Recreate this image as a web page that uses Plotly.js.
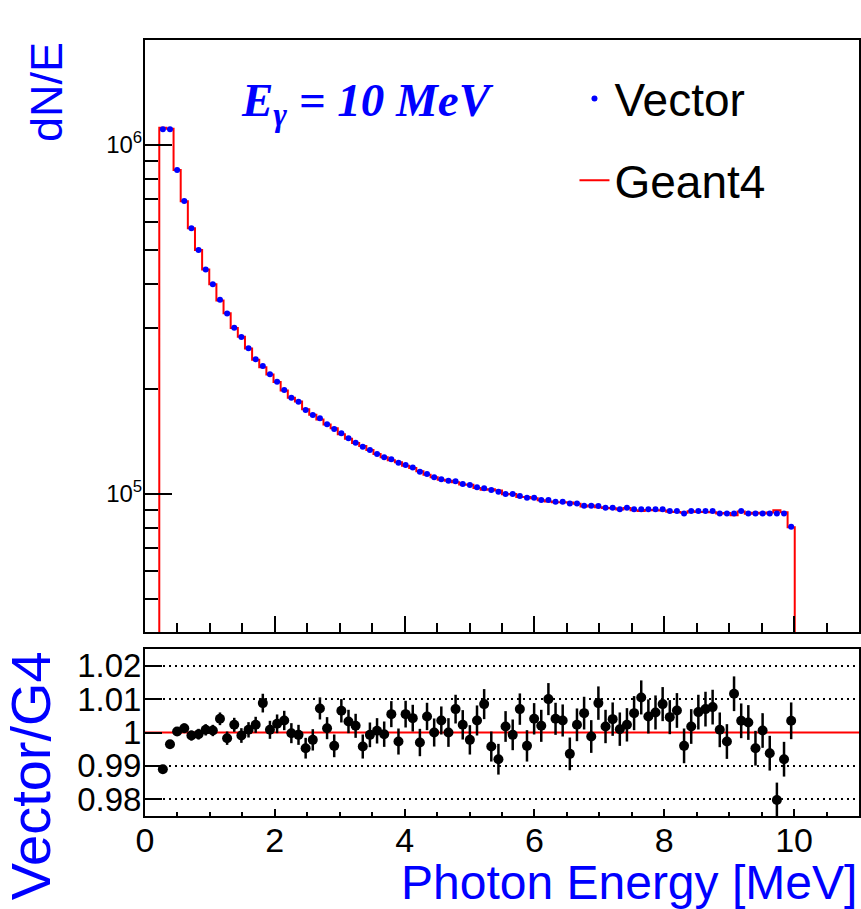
<!DOCTYPE html>
<html>
<head>
<meta charset="utf-8">
<script src="https://cdn.plot.ly/plotly-3.0.1.min.js"></script>
<style>
html,body{margin:0;padding:0;background:#ffffff;}
#chart{width:861px;height:909px;}
</style>
</head>
<body>
<div id="chart"></div>
<script>
// Histogram binning (100 bins over 0-11 MeV; first filled bin index 2)
const histBins = 100;
const histMin = 0;
const histMax = 11;
const firstFilledBin = 2;

// dN/E of the Vector sample, bins 2..90
const vectorDNdE = [
  1.109e6, 1.109e6, 8.48e5, 6.91e5, 5.77e5, 5.00e5, 4.40e5, 3.99e5, 3.60e5, 3.29e5,
  2.996e5, 2.82e5, 2.616e5, 2.432e5, 2.327e5, 2.203e5, 2.098e5, 1.987e5, 1.888e5, 1.839e5,
  1.741e5, 1.684e5, 1.648e5, 1.584e5, 1.536e5, 1.493e5, 1.444e5, 1.403e5, 1.366e5, 1.337e5,
  1.302e5, 1.274e5, 1.257e5, 1.229e5, 1.211e5, 1.192e5, 1.158e5, 1.141e5, 1.117e5, 1.102e5,
  1.092e5, 1.088e5, 1.068e5, 1.061e5, 1.045e5, 1.038e5, 1.027e5, 1.015e5, 1.000e5, 1.000e5,
  9.87e4, 9.76e4, 9.76e4, 9.61e4, 9.61e4, 9.51e4, 9.51e4, 9.40e4, 9.40e4, 9.26e4,
  9.26e4, 9.24e4, 9.14e4, 9.14e4, 9.04e4, 9.14e4, 9.04e4, 9.04e4, 9.04e4, 9.04e4,
  9.04e4, 8.94e4, 8.94e4, 8.80e4, 8.94e4, 8.94e4, 8.94e4, 8.94e4, 8.80e4, 8.80e4,
  8.80e4, 8.94e4, 8.80e4, 8.80e4, 8.80e4, 8.80e4, 8.80e4, 8.80e4, 8.06e4
];

// Vector / Geant4 ratio, bins 2..90 (read from the lower pad)
const ratioVectorG4 = [
  0.9890, 0.9965, 1.0003, 1.0013, 0.9991, 0.9995, 1.0008, 1.0006, 1.0041, 0.9983,
  1.0023, 0.9991, 1.0008, 1.0023, 1.0088, 1.0008, 1.0026, 1.0036, 0.9998, 0.9993,
  0.9953, 0.9978, 1.0072, 1.0013, 0.9960, 1.0065, 1.0033, 1.0020, 0.9958, 0.9993,
  1.0005, 0.9995, 1.0055, 0.9973, 1.0055, 1.0043, 0.9970, 1.0048, 1.0000, 1.0036,
  1.0000, 1.0070, 1.0023, 0.9978, 1.0036, 1.0085, 0.9958, 0.9920, 1.0018, 0.9993,
  1.0070, 0.9960, 1.0041, 1.0020, 1.0100, 1.0041, 1.0036, 0.9936, 1.0023, 1.0058,
  0.9988, 1.0088, 1.0018, 1.0040, 1.0010, 1.0023, 1.0058, 1.0105, 1.0048, 1.0060,
  1.0085, 1.0046, 1.0066, 0.9960, 1.0018, 1.0061, 1.0070, 1.0076, 1.0008, 0.9973,
  1.0116, 1.0035, 1.0030, 0.9953, 1.0006, 0.9938, 0.9798, 0.9920, 1.0035
];

// Ratio error bars (half length)
const ratioError = [
  0.0010, 0.0011, 0.0013, 0.0014, 0.0015, 0.0016, 0.0017, 0.0017, 0.0019, 0.0020,
  0.0021, 0.0022, 0.0023, 0.0024, 0.0028, 0.0027, 0.0028, 0.0029, 0.0030, 0.0030,
  0.0031, 0.0032, 0.0033, 0.0033, 0.0034, 0.0035, 0.0035, 0.0036, 0.0036, 0.0037,
  0.0038, 0.0038, 0.0039, 0.0039, 0.0040, 0.0040, 0.0041, 0.0041, 0.0042, 0.0042,
  0.0043, 0.0043, 0.0044, 0.0044, 0.0045, 0.0045, 0.0045, 0.0046, 0.0046, 0.0046,
  0.0047, 0.0047, 0.0047, 0.0048, 0.0048, 0.0048, 0.0048, 0.0049, 0.0049, 0.0049,
  0.0049, 0.0050, 0.0050, 0.0050, 0.0050, 0.0050, 0.0051, 0.0051, 0.0051, 0.0051,
  0.0051, 0.0051, 0.0052, 0.0052, 0.0052, 0.0052, 0.0052, 0.0052, 0.0052, 0.0052,
  0.0052, 0.0052, 0.0052, 0.0052, 0.0052, 0.0052, 0.0052, 0.0052, 0.0055
];

const yTickValsTop = [1e5, 1e6];
const yTickTextTop = ['10<sup>5</sup>', '10<sup>6</sup>'];
const yMinorTop = [5e4, 6e4, 7e4, 8e4, 9e4, 2e5, 3e5, 4e5, 5e5, 6e5, 7e5, 8e5, 9e5, 2e6];
const xTickVals = [0, 2, 4, 6, 8, 10];
const xTickText = ['0', '2', '4', '6', '8', '10'];
const yTickValsRatio = [0.98, 0.99, 1.00, 1.01, 1.02];
const yTickTextRatio = ['0.98', '0.99', '1', '1.01', '1.02'];
const yGridRatio = [0.98, 0.99, 1.01, 1.02];
const ratioReference = 1.0;

// Derived geometry
const binWidth = (histMax - histMin) / histBins;
const binCenters = vectorDNdE.map((_, k) => histMin + (firstFilledBin + k + 0.5) * binWidth);
const geant4DNdE = vectorDNdE.map((v, k) => v / ratioVectorG4[k]);
const histFloor = 1e3; // histogram baseline, below the visible range
const stepX = [histMin + firstFilledBin * binWidth];
const stepY = [histFloor];
geant4DNdE.forEach((v, k) => {
  stepX.push(histMin + (firstFilledBin + k) * binWidth);
  stepY.push(v);
});
stepX.push(histMin + (firstFilledBin + geant4DNdE.length) * binWidth);
stepY.push(histFloor);

const BLUE = '#0000ff';
const RED = '#ff0000';

const traces = [
  {
    type: 'scatter', mode: 'lines', name: 'Geant4',
    x: stepX, y: stepY, xaxis: 'x', yaxis: 'y',
    line: {color: RED, width: 2, shape: 'hv'},
    legendgroup: 'g4', legendrank: 2, hoverinfo: 'skip'
  },
  {
    type: 'scatter', mode: 'markers', name: 'Vector',
    x: binCenters, y: vectorDNdE, xaxis: 'x', yaxis: 'y',
    marker: {color: BLUE, size: 6},
    legendgroup: 'vec', legendrank: 1
  },
  {
    type: 'scatter', mode: 'markers', name: 'Vector/G4',
    x: binCenters, y: ratioVectorG4, xaxis: 'x2', yaxis: 'y2',
    marker: {color: '#000000', size: 10},
    error_y: {type: 'data', array: ratioError, visible: true, color: '#000000', thickness: 2.5, width: 0},
    showlegend: false
  }
];

const axisCommon = {
  showline: true, mirror: true, linecolor: '#000000', linewidth: 2,
  zeroline: false, ticks: 'inside', tickcolor: '#000000', tickwidth: 2
};

const layout = {
  width: 861, height: 909,
  margin: {l: 145, r: 2, t: 40, b: 93},
  paper_bgcolor: '#ffffff', plot_bgcolor: '#ffffff',
  font: {family: 'Liberation Sans, Arial, sans-serif', color: '#000000'},
  showlegend: true,
  legend: {
    x: 0.6015, y: 0.9716, xanchor: 'left', yanchor: 'top',
    font: {size: 46, color: '#000000'},
    bgcolor: 'rgba(0,0,0,0)', borderwidth: 0,
    traceorder: 'grouped', tracegroupgap: 19, itemwidth: 30
  },
  xaxis: Object.assign({}, axisCommon, {
    domain: [0, 1], anchor: 'y', range: [histMin, histMax],
    tickmode: 'array', tickvals: xTickVals, ticktext: xTickText,
    showticklabels: false, ticklen: 16, showgrid: false,
    minor: {dtick: 0.5, tick0: 0, ticks: 'inside', ticklen: 9, tickwidth: 2, tickcolor: '#000000', showgrid: false}
  }),
  yaxis: Object.assign({}, axisCommon, {
    domain: [0.2371, 1], anchor: 'x', type: 'log', range: [4.6046, 6.3009],
    tickmode: 'array', tickvals: yTickValsTop, ticktext: yTickTextTop,
    ticklen: 27, showgrid: false, tickfont: {size: 24, color: '#000000'},
    ticklabelstandoff: -4,
    minor: {tickmode: 'array', tickvals: yMinorTop, ticks: 'inside', ticklen: 13, tickwidth: 2, tickcolor: '#000000', showgrid: false}
  }),
  xaxis2: Object.assign({}, axisCommon, {
    domain: [0, 1], anchor: 'y2', range: [histMin, histMax],
    tickmode: 'array', tickvals: xTickVals, ticktext: xTickText,
    ticklen: 7, showgrid: false, tickfont: {size: 34, color: '#000000'},
    ticklabelstandoff: -7,
    minor: {dtick: 0.5, tick0: 0, ticks: 'inside', ticklen: 4, tickwidth: 2, tickcolor: '#000000', showgrid: false}
  }),
  yaxis2: Object.assign({}, axisCommon, {
    domain: [0, 0.2152], anchor: 'x2', range: [0.975, 1.025],
    tickmode: 'array', tickvals: yTickValsRatio, ticktext: yTickTextRatio,
    ticklen: 17, tickfont: {size: 33, color: '#000000'},
    ticklabelstandoff: -5,
    showgrid: false,
    minor: {tickmode: 'array', tickvals: yGridRatio, ticks: '', showgrid: true,
            gridcolor: '#000000', gridwidth: 2, griddash: '2px,4px'}
  }),
  shapes: [
    {type: 'line', xref: 'x2 domain', x0: 0, x1: 1, yref: 'y2', y0: ratioReference, y1: ratioReference,
     line: {color: RED, width: 2}, layer: 'below'}
  ],
  annotations: [
    {text: 'dN/E', textangle: -90, xref: 'paper', yref: 'paper',
     x: -0.1387, y: 1.0, xanchor: 'center', yanchor: 'top', showarrow: false,
     font: {size: 45, color: BLUE}},
    {text: 'Vector/G4', textangle: -90, xref: 'paper', yref: 'paper',
     x: -0.16, y: 0.2152, xanchor: 'center', yanchor: 'top', showarrow: false,
     font: {size: 56, color: BLUE}},
    {text: 'Photon Energy [MeV]', xref: 'paper', yref: 'paper',
     x: 1, y: -0.0855, xanchor: 'right', yanchor: 'middle', showarrow: false,
     font: {size: 48, color: BLUE}},
    {text: '<b><i>E<sub>γ</sub> = 10 MeV</i></b>', xref: 'paper', yref: 'paper',
     x: 0.132, y: 0.9188, xanchor: 'left', yanchor: 'middle', showarrow: false,
     font: {size: 47, color: BLUE, family: 'Liberation Serif, Times New Roman, serif'}}
  ]
};

Plotly.newPlot('chart', traces, layout, {displayModeBar: false, staticPlot: true});
</script>
</body>
</html>
